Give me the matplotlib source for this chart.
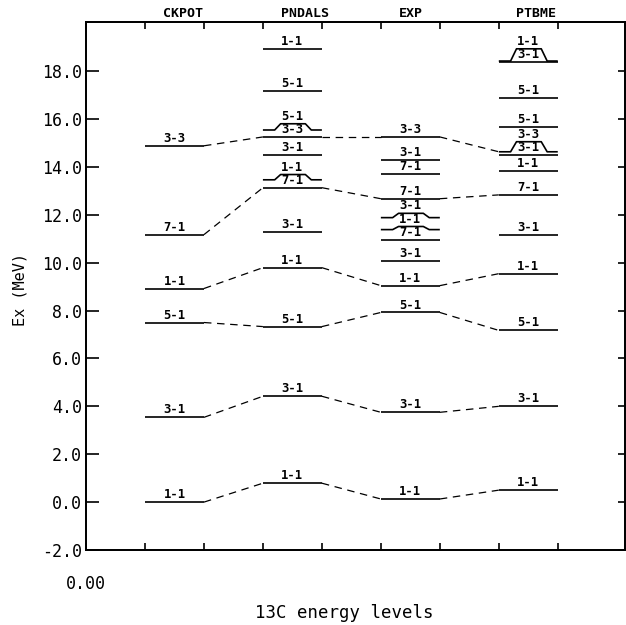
import matplotlib
matplotlib.use('Agg')
import matplotlib.pyplot as plt
import matplotlib.transforms as mtransforms

# level energies (MeV) and labels, per calculation, sorted by energy
columns = ['CKPOT', 'PNDALS', 'EXP', 'PTBME']

ckpot_e = [0.0, 3.54, 7.50, 8.92, 11.17, 14.88]
ckpot_lbl = ['1-1', '3-1', '5-1', '1-1', '7-1', '3-3']

pndals_e = [0.79, 4.42, 7.33, 9.79, 11.29, 13.13, 13.46, 14.50, 15.25, 15.54, 17.17, 18.92]
pndals_lbl = ['1-1', '3-1', '5-1', '1-1', '3-1', '7-1', '1-1', '3-1', '3-3', '5-1', '5-1', '1-1']

exp_e = [0.13, 3.75, 7.92, 9.04, 10.08, 10.96, 11.38, 11.88, 12.67, 13.71, 14.29, 15.25]
exp_lbl = ['1-1', '3-1', '5-1', '1-1', '3-1', '7-1', '1-1', '3-1', '7-1', '7-1', '3-1', '3-3']

ptbme_e = [0.50, 4.00, 7.17, 9.54, 11.17, 12.83, 13.83, 14.50, 14.63, 15.67, 16.88, 18.38, 18.42]
ptbme_lbl = ['1-1', '3-1', '5-1', '1-1', '3-1', '7-1', '1-1', '3-1', '3-3', '5-1', '5-1', '3-1', '1-1']

# dashed correspondences: index of the level in each column
links = [
    [0, 0, 0, 0],
    [1, 1, 1, 1],
    [2, 2, 2, 2],
    [3, 3, 3, 3],
    [4, 5, 8, 5],
    [5, 8, 11, 8],
]

energies = [ckpot_e, pndals_e, exp_e, ptbme_e]
labels = [ckpot_lbl, pndals_lbl, exp_lbl, ptbme_lbl]

mono = 'DejaVu Sans Mono'
gap = 0.55  # min label spacing in MeV

fig = plt.figure(figsize=(6.26, 6.25), dpi=100)
ax = fig.add_axes([86 / 626, 75 / 625, 539 / 626, 528 / 625])
ax.set_xlim(0, 9.14)
ax.set_ylim(-2, 20.05)

for i, (es, ls) in enumerate(zip(energies, labels)):
    x0 = 1 + 2 * i
    x1 = x0 + 1
    disp = []
    for e in es:
        disp.append(e if not disp else max(e, disp[-1] + gap))
    for e, d, l in zip(es, disp, ls):
        if d - e > 0.02:
            xs = [x0, x0 + 0.2, x0 + 0.3, x0 + 0.72, x0 + 0.82, x1]
            ys = [e, e, d, d, e, e]
        else:
            xs, ys = [x0, x1], [e, e]
        ax.plot(xs, ys, color='black', lw=1.2, solid_capstyle='butt')
        ax.text(x0 + 0.5, d + 0.04, l, ha='center', va='bottom',
                fontsize=8.8, fontweight='bold', family=mono)
    trans = mtransforms.blended_transform_factory(ax.transData, ax.transAxes)
    ax.text(x0 + 0.3, 1.003, columns[i], transform=trans, ha='left',
            va='bottom', fontsize=9.5, fontweight='bold', family=mono)

for chain in links:
    for c in range(3):
        a, b = chain[c], chain[c + 1]
        ax.plot([2 * c + 2, 2 * c + 3], [energies[c][a], energies[c + 1][b]],
                color='black', lw=0.9, ls=(0, (6, 4.5)))

yt = list(range(-2, 19, 2))
ax.set_yticks(yt)
ax.set_yticklabels([f'{v:.1f}' for v in yt], family=mono, fontsize=12)
ax.set_xticks(range(0, 9))
ax.set_xticklabels(['0.00'] + [''] * 8, family=mono, fontsize=12)
ax.tick_params(axis='y', direction='in', length=9, width=1.2, pad=3)
ax.tick_params(axis='x', direction='in', length=5, width=1.2, pad=18, top=True)

twin = ax.twinx()
twin.set_ylim(ax.get_ylim())
twin.set_yticks(yt)
twin.tick_params(axis='y', direction='in', length=5, width=1.2, labelright=False)

for a in (ax, twin):
    for s in a.spines.values():
        s.set_linewidth(1.3)

fig.text(20 / 626, 1 - 290 / 625, 'Ex (MeV)', rotation=90, ha='center',
         va='center', fontsize=11, family=mono)
fig.text(344 / 626, 1 - 613 / 625, '13C energy levels', ha='center',
         va='center', fontsize=12.5, family=mono)

fig.savefig('out.png', dpi=100, facecolor='white')
